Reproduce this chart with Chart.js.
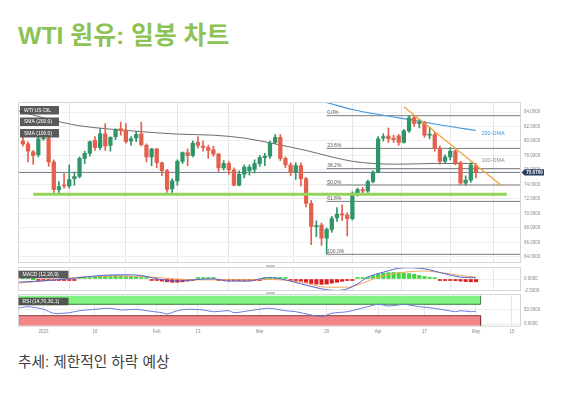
<!DOCTYPE html>
<html lang="ko">
<head>
<meta charset="utf-8">
<title>WTI 원유: 일봉 차트</title>
<script src="https://cdn.jsdelivr.net/npm/chart.js@4.4.1/dist/chart.umd.min.js"></script>
<style>
  html, body { margin: 0; padding: 0; background: #ffffff; }
  body { position: relative; width: 573px; height: 395px; overflow: hidden;
         font-family: "Liberation Sans", "Noto Sans CJK KR", sans-serif; }
  h1 { position: absolute; left: 18px; top: 24px; margin: 0; white-space: nowrap;
       font-size: 24.8px; line-height: 24.8px; font-weight: bold; color: #8dc255; }
  canvas { position: absolute; left: 0; }
  #priceChart { top: 102px; }
  #macdChart { top: 264px; }
  #rsiChart { top: 290px; }
  .grip { position: absolute; left: 266px; width: 9px; height: 2px; background: #c9c9c9; }
  .caption { position: absolute; left: 18px; top: 355px; margin: 0; white-space: nowrap;
             font-size: 14.7px; line-height: 14px; color: #404040; }
</style>
</head>
<body>
<h1>WTI 원유: 일봉 차트</h1>
<canvas id="priceChart" width="560" height="161"></canvas>
<div class="grip" style="top:265px"></div>
<canvas id="macdChart" width="560" height="32"></canvas>
<div class="grip" style="top:292px"></div>
<canvas id="rsiChart" width="560" height="50"></canvas>
<p class="caption">추세: 제한적인 하락 예상</p>

<script>
// trading days on the chart (no session on 4/7)
const days = [
  '12/27','12/28','12/29','12/30',
  '1/2','1/3','1/4','1/5','1/6','1/9','1/10','1/11','1/12','1/13','1/16','1/17','1/18','1/19','1/20',
  '1/23','1/24','1/25','1/26','1/27','1/30','1/31',
  '2/1','2/2','2/3','2/6','2/7','2/8','2/9','2/10','2/13','2/14','2/15','2/16','2/17','2/20','2/21',
  '2/22','2/23','2/24','2/27','2/28',
  '3/1','3/2','3/3','3/6','3/7','3/8','3/9','3/10','3/13','3/14','3/15','3/16','3/17','3/20','3/21',
  '3/22','3/23','3/24','3/27','3/28','3/29','3/30','3/31',
  '4/3','4/4','4/5','4/6','4/10','4/11','4/12','4/13','4/14','4/17','4/18','4/19','4/20','4/21',
  '4/24','4/25','4/26','4/27','4/28',
  '5/1'
];

const openP = [80.0,79.6,78.5,78.1,80.3,80.4,77.1,73.3,73.9,73.8, 74.8,75.1,77.6,78.3,80.1,79.1,81.0,79.4,80.6,81.7,
  81.5,80.0,80.4,81.0,79.4,77.8,78.9,77.0,75.9,73.4, 74.5,77.2,78.4,78.0,79.8,79.3,79.1,78.8,78.2,76.3,
  76.9,76.0,73.9,75.4,75.9,76.1,76.9,77.7,77.9,79.8, 80.5,77.6,76.7,75.7,76.6,74.8,71.4,68.2,68.4,66.6,
  67.8,69.4,69.9,69.8,69.3,72.8,73.3,73.1,74.4,75.7, 80.4,80.7,80.4,80.7,79.8,81.4,83.2,82.4,82.5,80.8,
  80.9,79.0,77.2,77.8,78.6,77.0,74.2,74.6,76.6];
const highP = [80.5,79.9,78.7,80.6,80.5,80.7,77.4,74.4,75.5,76.7, 75.7,77.8,78.6,80.0,80.6,81.7,82.4,80.6,81.7,82.6,
  82.4,80.6,81.3,82.6,79.6,79.0,79.0,77.1,76.1,74.8, 77.4,78.5,78.9,80.0,80.6,80.0,79.4,79.3,78.3,77.3,
  77.2,76.3,75.9,76.7,76.7,77.4,78.0,78.3,80.0,80.9, 80.9,77.8,77.0,77.0,77.0,75.0,71.8,69.0,68.7,68.0,
  69.6,70.8,71.2,70.1,73.0,73.5,73.6,74.6,75.9,80.6, 81.0,81.8,80.8,80.9,81.6,83.5,83.4,83.0,82.7,81.9,
  81.2,79.3,78.1,79.1,78.8,77.2,75.2,77.0,76.9];
const lowP = [79.3,77.1,76.8,77.8,80.1,76.5,72.9,72.7,73.5,73.5, 73.9,74.9,76.9,77.9,78.7,78.8,78.7,78.6,80.2,80.8,
  79.7,79.4,79.9,79.3,77.1,76.6,76.3,75.2,72.9,72.6, 73.9,76.9,76.6,77.8,79.0,78.6,77.6,77.9,75.8,76.0,
  75.4,73.8,73.8,74.9,75.3,75.6,76.5,76.6,77.6,79.6, 77.3,76.3,75.2,74.7,73.8,70.9,65.7,66.8,65.6,64.4,
  67.4,68.9,69.0,66.9,69.1,72.4,72.6,72.9,74.2,75.6, 80.0,79.8,79.8,79.4,79.7,81.2,82.0,81.8,80.5,80.3,
  78.6,76.8,76.9,77.4,76.7,74.0,73.9,74.3,74.9];
const closeP = [79.6,78.6,78.0,80.3,80.3,77.1,73.3,73.7,73.8,74.7, 75.1,77.6,78.3,79.9,79.1,81.0,79.3,80.5,81.6,81.4,
  79.9,80.3,80.9,79.5,77.8,78.9,77.0,75.9,73.3,74.5, 77.2,78.4,78.0,79.7,79.4,79.1,78.7,78.2,76.3,76.9,
  76.0,73.9,75.4,76.4,76.4,76.9,77.7,77.9,79.7,80.5, 77.6,76.7,75.7,76.6,74.8,71.4,68.2,68.3,66.6,67.8,
  69.3,69.9,69.8,69.3,72.8,73.3,73.1,74.4,75.7,80.3, 80.6,80.3,80.2,79.8,81.4,83.2,82.4,82.6,80.8,80.9,
  79.0,77.2,77.8,78.6,77.0,74.2,74.6,76.7,75.67];

// moving averages, read at a few points (x = trading day index)
const sma100Days = [-1, 5, 11, 16, 22, 30, 37, 43, 49, 55, 60, 64, 68, 73, 80, 88];
const sma100 = [84.2, 83.0, 82.1, 81.7, 81.35, 80.95, 80.8, 80.4, 79.6, 78.7, 77.8, 77.2, 76.9, 76.8, 76.9, 76.9];
const sma200Days = [57, 60, 64, 70, 76, 82, 88];
const sma200 = [85.7, 85.1, 84.35, 83.55, 82.85, 82.1, 81.45];

// fibonacci retracement from the 3/20 low to the 4/12 high
const fibFrom = 59;
const fibLevels = [83.49, 78.98, 76.19, 73.93, 71.67, 64.37];
const fibNames = ['0.0%', '23.6%', '38.2%', '50.0%', '61.8%', '100.0%'];

const lastPrice = 75.67;
const supportLevel = 72.65;
const supportDays = [2, 94];
const trendDays = [74, 93];
const trendValues = [84.73, 73.83];

// MACD (12,26,9)
const macdHist = [0.1,0.05,0,-0.05,-0.1,-0.2,-0.3,-0.3,-0.3,-0.2,
  -0.1,0.05,0.15,0.3,0.45,0.55,0.65,0.7,0.75,0.7,
  0.65,0.55,0.4,0.25,0.1,-0.1,-0.3,-0.45,-0.6,-0.7,
  -0.7,-0.6,-0.45,-0.2,0.05,0.15,0.15,0.1,-0.05,-0.15,
  -0.25,-0.3,-0.35,-0.3,-0.25,-0.15,-0.05,0.1,0.2,0.25,
  0.2,0.05,-0.05,-0.2,-0.45,-0.7,-0.95,-1.1,-1.15,-1.1,
  -0.9,-0.7,-0.5,-0.3,-0.1,0.1,0.25,0.4,0.75,1.05,
  1.25,1.35,1.4,1.35,1.25,1.15,1.0,0.75,0.55,0.35,
  0.15,-0.05,-0.15,-0.25,-0.35,-0.45,-0.55,-0.6,-0.6];
const macdDays = [-1, 5, 9, 15, 20, 23, 26, 30, 33, 37, 40, 44, 46, 48, 51, 54, 58, 61, 63, 65, 67, 70, 74, 78, 82, 85, 88];
const macdLine = [-0.68, -0.32, 0.04, 0.75, 0.9, 0.75, 0.05, -0.46, -0.18, 0.04, -0.46, -0.46, 0.04, 0.3, -0.18,
  -1.03, -2.1, -2.45, -2.1, -1.03, 0.4, 1.45, 2.4, 2.18, 1.1, 0.4, 0.25];
const signalDays = [-1, 5, 11, 20, 24, 29, 35, 40, 44, 48, 54, 59, 63, 66, 69, 74, 78, 82, 85, 88];
const signalLine = [-0.9, -0.32, 0.4, 0.6, 0.5, 0.04, -0.18, -0.18, -0.18, -0.1, -0.68, -1.75, -1.75, -0.9,
  0.4, 1.45, 1.7, 1.25, 0.75, 0.4];

// RSI (14,70,30)
const rsiDays = [-1, 1, 4, 6, 9, 11, 14, 17, 19, 22, 24, 27, 28, 30, 32, 35, 37, 40, 41, 44, 46, 48, 51, 53, 56,
  58, 60, 63, 65, 67, 69, 71, 74, 75, 77, 79, 82, 84, 85, 87, 88];
const rsiValues = [56, 61.6, 52.5, 38.4, 40.5, 47.5, 52.5, 56, 50, 52.5, 47.5, 40.5, 36, 47.5, 52.5, 50, 44, 47.5,
  40.5, 47.5, 52.5, 56, 47.5, 44, 32.5, 26.5, 38.4, 44, 52.5, 61.6, 70, 64, 70, 67.5, 61.6, 58, 50, 44, 47.5, 44, 46];
const rsiLevels = [30, 70];

// axis ticks
const xTickPos = [4, 14, 26, 34, 46, 59, 69, 78, 88, 95];
const xTickText = ['2023', '16', 'Feb', '13', 'Mar', '20', 'Apr', '17', 'May', '15'];
const priceTicks = [64, 66, 68, 70, 72, 74, 76, 78, 80, 82, 84];
const macdTicks = [-2.5, 0];
const rsiTicks = [0, 50];

// ---------------------------------------------------------------
const FONT = '"Liberation Sans", Arial, sans-serif';
const tinyFont = { family: FONT, size: 4.5 };
const xMin = -0.95, xMax = 96.75;
const bandEnd = days.length - 0.1;
const upColor = '#2f9467', downColor = '#e2604c';

const pts = (xs, ys) => xs.map((x, k) => ({ x, y: ys[k] }));
const hLine = (x0, x1, v) => [{ x: x0, y: v }, { x: x1, y: v }];

function xAxis(showTicks) {
  return {
    type: 'linear', min: xMin, max: xMax, offset: false,
    afterBuildTicks: s => { s.ticks = xTickPos.map(v => ({ value: v })); },
    afterFit: s => { s.height = showTicks ? 13.3 : 0; s.paddingLeft = 0; s.paddingRight = 0; },
    grid: { color: '#e6e6e6', drawTicks: false },
    border: { display: false },
    ticks: { display: showTicks, autoSkip: false, maxRotation: 0, padding: 2.5, color: '#888',
             font: tinyFont, callback: (v, i) => xTickText[i] }
  };
}

function yAxis(min, max, ticks) {
  return {
    type: 'linear', position: 'right', min, max,
    afterBuildTicks: s => { s.ticks = ticks.map(v => ({ value: v })); },
    afterFit: s => { s.width = 39; s.paddingTop = 0; s.paddingBottom = 0; },
    grid: { color: '#efefef', drawTicks: false },
    border: { display: false },
    ticks: { padding: 3, color: '#888', font: tinyFont, callback: v => Number(v).toFixed(4) }
  };
}

// white plot area with a thin grey frame
const panelFrame = {
  id: 'panelFrame',
  beforeDraw(chart) {
    const { ctx, chartArea: a } = chart;
    ctx.save();
    ctx.fillStyle = '#ffffff';
    ctx.fillRect(a.left, a.top, a.right - a.left, a.bottom - a.top);
    ctx.restore();
  },
  afterDraw(chart) {
    const { ctx, chartArea: a } = chart;
    ctx.save();
    ctx.strokeStyle = '#d6d6d6';
    ctx.lineWidth = 1;
    ctx.strokeRect(a.left + 0.5, a.top + 0.5, a.right - a.left - 1, a.bottom - a.top - 1);
    ctx.restore();
  }
};

function tagBox(ctx, x, y, w, h, text) {
  ctx.fillStyle = 'rgba(72,72,72,0.9)';
  ctx.fillRect(x, y, w, h);
  ctx.fillStyle = '#ffffff';
  ctx.font = '5px ' + FONT;
  ctx.textAlign = 'left';
  ctx.textBaseline = 'middle';
  ctx.fillText(text, x + 4, y + h / 2 + 0.3);
}

const priceLabels = {
  id: 'priceLabels',
  afterDatasetsDraw(chart) {
    const { ctx, scales: { x, y } } = chart;
    ctx.save();
    // fib level names
    ctx.font = '5px ' + FONT;
    ctx.fillStyle = '#555';
    ctx.textAlign = 'left';
    ctx.textBaseline = 'bottom';
    fibLevels.forEach((lv, k) => {
      ctx.fillText(fibNames[k], x.getPixelForValue(fibFrom) + 0.5, y.getPixelForValue(lv) - 0.3);
    });
    // moving average names
    ctx.font = '5.5px ' + FONT;
    ctx.textBaseline = 'middle';
    const n2 = sma200Days.length - 1, n1 = sma100Days.length - 1;
    ctx.fillStyle = '#3f97dd';
    ctx.fillText('200-DMA', x.getPixelForValue(sma200Days[n2]) + 5.5, y.getPixelForValue(sma200[n2]) + 2.8);
    ctx.fillStyle = '#8c8c8c';
    ctx.fillText('100-DMA', x.getPixelForValue(sma100Days[n1]) + 5.5, y.getPixelForValue(sma100[n1]) - 2.6);
    ctx.restore();
  },
  afterDraw(chart) {
    const { ctx, chartArea: a, scales: { y } } = chart;
    ctx.save();
    ['WTI US OIL', 'SMA (200.0)', 'SMA (100.0)'].forEach((t, k) => {
      tagBox(ctx, a.left + 2, a.top + 4 + k * 11.5, 39, 8.5, t);
    });
    // last price tag on the axis
    const cy = y.getPixelForValue(lastPrice);
    ctx.fillStyle = '#2b3f63';
    ctx.beginPath();
    ctx.moveTo(a.right + 0.5, cy);
    ctx.lineTo(a.right + 3.5, cy - 3.2);
    ctx.lineTo(a.right + 23, cy - 3.2);
    ctx.lineTo(a.right + 23, cy + 3.2);
    ctx.lineTo(a.right + 3.5, cy + 3.2);
    ctx.closePath();
    ctx.fill();
    ctx.fillStyle = '#ffffff';
    ctx.font = 'bold 4.5px ' + FONT;
    ctx.textAlign = 'center';
    ctx.textBaseline = 'middle';
    ctx.fillText(lastPrice.toFixed(4), a.right + 13.5, cy + 0.3);
    ctx.restore();
  }
};

const panelName = (id, text) => ({
  id,
  afterDraw(chart) {
    const { ctx, chartArea: a } = chart;
    ctx.save();
    tagBox(ctx, a.left + 0.5, a.top + 3.7, 50, 7.6, text);
    ctx.restore();
  }
});

const candleColors = closeP.map((c, i) => c >= openP[i] ? upColor : downColor);
const lineStyle = { pointRadius: 0, borderWidth: 1, fill: false };

new Chart(document.getElementById('priceChart'), {
  type: 'bar',
  data: {
    datasets: [
      ...fibLevels.map(lv => ({ type: 'line', data: hLine(fibFrom, xMax, lv), borderColor: '#7b7b7b', ...lineStyle, order: 9 })),
      { type: 'line', data: hLine(xMin, xMax, lastPrice), borderColor: '#6a7888', ...lineStyle, order: 9 },
      { type: 'line', data: pts(sma100Days, sma100), borderColor: '#6e6e6e', ...lineStyle,
        cubicInterpolationMode: 'monotone', order: 8 },
      { type: 'line', data: pts(sma200Days, sma200), borderColor: '#3f97dd', ...lineStyle, borderWidth: 1.2,
        cubicInterpolationMode: 'monotone', order: 8 },
      { data: days.map((d, i) => ({ x: i, y: [lowP[i], highP[i]] })), backgroundColor: candleColors,
        barThickness: 1, grouped: false, order: 6 },
      { data: days.map((d, i) => ({ x: i, y: [openP[i], closeP[i]] })), backgroundColor: candleColors,
        barThickness: 3.6, minBarLength: 1, grouped: false, order: 5 },
      { type: 'line', data: hLine(supportDays[0], supportDays[1], supportLevel), borderColor: '#93d35a', ...lineStyle,
        borderWidth: 3, order: 3 },
      { type: 'line', data: pts(trendDays, trendValues), borderColor: '#f0a33c', ...lineStyle, borderWidth: 1.3, order: 2 }
    ]
  },
  options: {
    responsive: false, animation: false,
    layout: { padding: { left: 18, right: 0, top: 0, bottom: 0 } },
    plugins: { legend: { display: false }, tooltip: { enabled: false } },
    scales: { x: xAxis(false), y: yAxis(63.17, 85.38, priceTicks) }
  },
  plugins: [panelFrame, priceLabels]
});

new Chart(document.getElementById('macdChart'), {
  type: 'bar',
  data: {
    datasets: [
      { data: macdHist.map((v, i) => ({ x: i, y: v })),
        backgroundColor: macdHist.map(v => v >= 0 ? '#3fd63f' : '#dc1e1e'),
        barThickness: 3.4, minBarLength: 1.5, grouped: false, order: 5 },
      { type: 'line', data: pts(signalDays, signalLine), borderColor: '#f2a660', ...lineStyle,
        cubicInterpolationMode: 'monotone', order: 2 },
      { type: 'line', data: pts(macdDays, macdLine), borderColor: '#5563d4', ...lineStyle,
        cubicInterpolationMode: 'monotone', order: 1 }
    ]
  },
  options: {
    responsive: false, animation: false,
    layout: { padding: { left: 18, right: 0, top: 3, bottom: 5 } },
    plugins: { legend: { display: false }, tooltip: { enabled: false } },
    scales: { x: xAxis(false), y: yAxis(-2.564, 2.564, macdTicks) }
  },
  plugins: [panelFrame, panelName('macdName', 'MACD (12,26,9)')]
});

new Chart(document.getElementById('rsiChart'), {
  type: 'line',
  data: {
    datasets: [
      { data: hLine(xMin, bandEnd, 100), fill: { value: rsiLevels[1] }, backgroundColor: '#82f282',
        borderWidth: 0, pointRadius: 0, order: 6 },
      { data: hLine(xMin, bandEnd, -5), fill: { value: rsiLevels[0] }, backgroundColor: '#f28585',
        borderWidth: 0, pointRadius: 0, order: 6 },
      { data: [...hLine(xMin, bandEnd, rsiLevels[1]), { x: bandEnd, y: 100 }], borderColor: '#3f7a3f', ...lineStyle, order: 5 },
      { data: [...hLine(xMin, bandEnd, rsiLevels[0]), { x: bandEnd, y: -5 }], borderColor: '#8a3a3a', ...lineStyle, order: 5 },
      { data: pts(rsiDays, rsiValues), borderColor: '#6f7bd8', ...lineStyle, tension: 0.3, order: 1 }
    ]
  },
  options: {
    responsive: false, animation: false,
    layout: { padding: { left: 18, right: 0, top: 4, bottom: 0 } },
    plugins: { legend: { display: false }, tooltip: { enabled: false } },
    scales: { x: xAxis(true), y: yAxis(-8.6, 106.1, rsiTicks) }
  },
  plugins: [panelFrame, panelName('rsiName', 'RSI (14,70,30,1)')]
});
</script>
</body>
</html>
